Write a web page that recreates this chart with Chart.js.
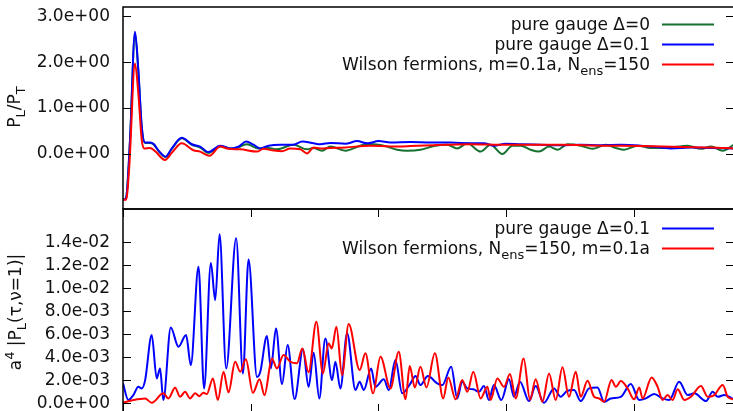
<!DOCTYPE html>
<html>
<head>
<meta charset="utf-8">
<script src="https://cdn.jsdelivr.net/npm/chart.js@4.4.1/dist/chart.umd.min.js"></script>
<style>
  html, body { margin: 0; padding: 0; background: #fff; overflow: hidden; width: 733px; height: 411px; }
  canvas { position: absolute; left: 0; }
  #topChart { top: 0; }
  #bottomChart { top: 200px; }
</style>
</head>
<body>
<canvas id="topChart" width="740" height="212"></canvas>
<canvas id="bottomChart" width="740" height="230"></canvas>
<script>
// ---- data (x = tau, tick every 10) ----
const xTicks = [0, 10, 20, 30, 40];
const topYTicks = [0, 1, 2, 3];
const bottomYTicks = [0, 0.002, 0.004, 0.006, 0.008, 0.010, 0.012, 0.014];

const topNames = ["pure gauge Δ=0", "pure gauge Δ=0.1", "Wilson fermions, m=0.1a, N_ens=150"];
const bottomNames = ["pure gauge Δ=0.1", "Wilson fermions, N_ens=150, m=0.1a"];

// top panel: P_L / P_T
const topGreenX = [0, 0.24, 0.55, 0.94, 1.2, 1.47, 1.73, 2.12, 2.38, 2.85, 3.33, 3.82, 4.6, 5.39, 6.04, 6.69, 7.61, 8.65, 9.7, 10.61,
  11.37, 12.05, 13.36, 14.41, 14.9, 15.58, 16.24, 17.41, 18.85, 19.63, 20.55, 21.47, 22.25, 23.29, 24.34, 25.39, 26.17, 26.96, 28.0, 28.78,
  29.7, 30.49, 31.14, 31.92, 32.57, 33.36, 34.02, 34.8, 35.84, 36.75, 37.8, 38.59, 39.24, 40.29, 41.33, 42.51, 44.21, 45.25, 46.04, 46.96, 47.84];
const topGreenY = [-1.0, -0.96, 0.3, 2.62, 1.8, 0.57, 0.24, 0.24, 0.21, 0.04, -0.07, 0.11, 0.34, 0.2, 0.14, 0.02, 0.16, 0.11, 0.21, 0.12,
  0.13, 0.1, 0.2, 0.1, 0.13, 0.07, 0.16, 0.07, 0.2, 0.21, 0.17, 0.09, 0.07, 0.09, 0.17, 0.2, 0.12, 0.23, 0.05, 0.2,
  0.0, 0.18, 0.18, 0.09, 0.05, 0.16, 0.09, 0.21, 0.18, 0.11, 0.2, 0.13, 0.09, 0.18, 0.13, 0.13, 0.18, 0.11, 0.16, 0.07, 0.2];

const topBlueX = [0, 0.24, 0.55, 0.94, 1.2, 1.47, 1.73, 2.12, 2.38, 2.85, 3.33, 3.82, 4.6, 5.39, 6.04, 6.69, 7.61, 8.39, 9.04, 9.65,
  10.22, 10.75, 11.4, 12.31, 13.36, 14.02, 14.93, 15.45, 16.24, 17.41, 18.33, 19.14, 20.02, 20.94, 22.51, 24.08, 25.65, 27.22, 28.26, 29.04,
  29.96, 31.14, 32.71, 34.27, 35.84, 37.41, 38.98, 40.55, 42.12, 42.9, 44.47, 46.04, 47.84];
const topBlueY = [-1.0, -0.96, 0.3, 2.66, 1.83, 0.59, 0.25, 0.25, 0.22, 0.05, -0.06, 0.12, 0.35, 0.21, 0.16, 0.04, 0.18, 0.12, 0.16, 0.27,
  0.2, 0.12, 0.18, 0.2, 0.2, 0.27, 0.23, 0.21, 0.24, 0.22, 0.28, 0.23, 0.28, 0.25, 0.26, 0.25, 0.25, 0.23, 0.23, 0.18,
  0.22, 0.21, 0.2, 0.19, 0.2, 0.19, 0.2, 0.18, 0.14, 0.12, 0.14, 0.13, 0.12];

const topRedX = [0, 0.24, 0.49, 0.94, 1.2, 1.47, 1.65, 2.12, 2.51, 3.29, 3.84, 4.6, 5.51, 6.04, 6.77, 7.61, 8.26, 9.18, 10.49, 11.0,
  11.69, 12.45, 13.1, 13.88, 14.41, 14.93, 15.45, 16.24, 17.41, 19.37, 20.94, 22.51, 24.34, 25.39, 27.22, 29.57, 31.92, 34.27, 37.41, 40.55,
  43.69, 46.04, 47.84];
const topRedY = [-1.0, -1.0, -0.28, 1.97, 1.32, 0.3, 0.12, 0.13, 0.06, -0.13, 0.03, 0.23, 0.08, 0.05, -0.04, 0.16, 0.11, 0.1, 0.05, 0.11,
  0.08, 0.06, 0.12, 0.1, 0.01, 0.14, 0.12, 0.13, 0.14, 0.18, 0.16, 0.17, 0.19, 0.2, 0.21, 0.2, 0.2, 0.2, 0.18, 0.17,
  0.15, 0.14, 0.12];

// bottom panel: a^4 |P_L(tau, nu=1)|, values in units of 1e-3
const botBlueX = [0, 0.42, 0.81, 1.2, 1.47, 1.73, 2.25, 2.64, 2.9, 3.16, 3.74, 4.34, 4.94, 5.31, 5.91, 6.35, 6.88, 7.22, 7.56, 8.08,
  8.86, 9.39, 9.83, 10.49, 10.75, 11.27, 11.58, 11.98, 12.45, 12.89, 13.44, 14.09, 14.53, 14.93, 15.37, 15.84, 16.37, 16.63, 17.02, 17.55,
  18.2, 18.53, 18.85, 19.43, 19.76, 20.42, 20.81, 21.33, 21.86, 22.51, 22.9, 23.29, 23.87, 24.6, 25.0, 25.7, 26.17, 26.56, 26.96, 27.43,
  27.87, 28.26, 28.65, 29.04, 29.62, 30.22, 30.61, 31.08, 31.79, 32.31, 32.96, 33.75, 34.27, 34.8, 35.32, 35.84, 36.49, 37.15, 37.67, 38.2,
  38.98, 39.76, 40.42, 40.94, 41.59, 42.25, 42.77, 43.55, 44.21, 44.73, 45.65, 46.17, 46.56, 47.08, 47.84];
const botBlueY = [1.74, 0.29, 0.72, 1.44, 1.3, 2.0, 5.94, 2.17, 3.04, 0.29, 6.6, 4.92, 5.94, 3.33, 11.88, 1.3, 12.2, 8.98, 14.7, 3.04,
  14.35, 2.6, 12.5, 2.3, 2.75, 5.85, 3.04, 6.5, 1.68, 5.07, 0.37, 4.7, 1.44, 4.4, 0.43, 5.65, 2.03, 3.62, 1.3, 6.09,
  1.16, 1.88, 1.16, 3.04, 1.44, 2.09, 1.16, 3.77, 0.87, 1.74, 2.37, 1.59, 2.37, 1.74, 1.59, 3.18, 0.43, 1.88, 1.3, 1.22,
  1.0, 1.5, 0.29, 1.59, 0.29, 2.09, 0.57, 1.88, 0.2, 1.5, 0.05, 1.3, 0.57, 1.1, 1.16, 0.2, 1.3, 1.39, 0.14, 0.43,
  0.57, 1.68, 0.29, 0.43, 0.81, 0.43, 0.29, 1.88, 0.72, 0.87, 0.2, 1.0, 0.57, 0.72, 0.35];

const botRedX = [0, 0.81, 1.73, 2.25, 3.16, 3.55, 4.08, 4.47, 4.86, 5.25, 5.65, 5.98, 6.3, 6.56, 7.04, 7.43, 7.87, 8.26, 8.78, 9.18,
  9.62, 10.17, 10.69, 11.08, 11.66, 12.05, 12.57, 13.1, 13.62, 14.04, 14.53, 15.14, 15.65, 16.1, 16.35, 16.71, 17.15, 17.67, 18.53, 18.98,
  19.58, 20.16, 20.94, 21.59, 22.12, 22.45, 22.85, 23.29, 23.76, 24.42, 25.07, 25.47, 26.04, 26.56, 26.96, 27.43, 28.0, 28.53, 28.78, 29.31,
  29.83, 30.3, 30.75, 31.37, 31.87, 32.31, 32.84, 33.36, 33.88, 34.41, 34.92, 35.45, 35.84, 36.37, 36.89, 37.28, 37.67, 38.25, 38.59, 38.98,
  39.51, 40.02, 40.42, 40.68, 41.39, 41.86, 42.25, 42.64, 43.03, 43.43, 43.95, 44.47, 45.25, 45.78, 46.27, 46.96, 47.35, 47.84];
const botRedY = [0.05, 0.29, 0.43, 0.05, 0.87, 0.43, 1.36, 0.57, 1.0, 0.43, 0.87, 0.63, 0.92, 0.81, 2.17, 0.29, 2.75, 0.96, 3.62, 2.75,
  3.83, 0.92, 2.09, 0.72, 3.91, 3.04, 4.2, 3.62, 3.48, 4.78, 2.7, 7.1, 2.6, 5.2, 4.78, 6.66, 2.46, 6.9, 2.9, 4.35,
  0.87, 4.05, 1.3, 4.49, 0.35, 3.24, 1.39, 3.18, 1.39, 4.35, 0.43, 2.26, 0.35, 2.03, 1.0, 2.75, 0.43, 1.44, 0.29, 2.17,
  1.44, 2.55, 0.43, 3.91, 0.29, 2.09, 0.14, 2.6, 0.29, 3.13, 0.57, 2.75, 0.57, 1.97, 0.57, 0.43, 0.14, 2.03, 1.44, 1.94,
  1.3, 0.35, 1.39, 0.43, 2.26, 1.44, 0.29, 0.72, 0.29, 1.22, 0.29, 0.57, 1.5, 0.57, 0.7, 1.59, 0.57, 0.35];

// ---- helpers ----
const GREEN = "#16702f", BLUE = "#0000ff", RED = "#ff0000";
const MAIN_FONT = "17px 'DejaVu Sans'";
const SMALL_FONT = "13px 'DejaVu Sans'";
const TEXT_COLOR = "#111";

function points(xs, ys, scale) {
  return xs.map((x, i) => ({ x: x, y: ys[i] * (scale || 1) }));
}

function fmtExp(v) {
  return Number(v).toExponential(1).replace(/e([+-])(\d)$/, "e$10$2");
}

// "N_ens" -> N with subscript "ens"
function parseRich(str) {
  const segs = [];
  const re = /([_^])(\{[^}]*\}|[A-Za-z0-9]+)/g;
  let last = 0, m;
  while ((m = re.exec(str))) {
    if (m.index > last) segs.push({ t: str.slice(last, m.index) });
    const body = m[2].replace(/[{}]/g, "");
    segs.push({ t: body, sub: m[1] === "_", sup: m[1] === "^" });
    last = re.lastIndex;
  }
  if (last < str.length) segs.push({ t: str.slice(last) });
  return segs;
}

function richWidth(ctx, segs) {
  let w = 0;
  segs.forEach(s => {
    ctx.font = s.sub || s.sup ? SMALL_FONT : MAIN_FONT;
    w += ctx.measureText(s.t).width;
  });
  return w;
}

function drawRich(ctx, segs, x, y) {
  segs.forEach(s => {
    ctx.font = s.sub || s.sup ? SMALL_FONT : MAIN_FONT;
    const dy = s.sub ? 5 : s.sup ? -7 : 0;
    ctx.fillText(s.t, x, y + dy);
    x += ctx.measureText(s.t).width;
  });
}

// frame, inward ticks, axis title and key, gnuplot style
const framePlugin = {
  id: "frame",
  afterDraw(chart, args, opts) {
    const { ctx, chartArea: a, scales } = chart;
    ctx.save();
    ctx.strokeStyle = "#000";
    ctx.lineWidth = 1;
    ctx.beginPath();
    scales.y.ticks.forEach(t => {
      const y = Math.round(scales.y.getPixelForValue(t.value)) + 0.5;
      ctx.moveTo(a.left, y); ctx.lineTo(a.left + 8, y);
      ctx.moveTo(a.right, y); ctx.lineTo(a.right - 8, y);
    });
    if (opts.xTicks) {
      xTicks.forEach(v => {
        const x = Math.round(scales.x.getPixelForValue(v)) + 0.5;
        ctx.moveTo(x, a.bottom); ctx.lineTo(x, a.bottom - 8);
        ctx.moveTo(x, a.top); ctx.lineTo(x, a.top + 8);
      });
    }
    ctx.stroke();
    ctx.lineWidth = 1.5;
    ctx.strokeRect(a.left, a.top, a.right - a.left, a.bottom - a.top);

    // y axis title
    ctx.fillStyle = TEXT_COLOR;
    ctx.textBaseline = "alphabetic";
    ctx.textAlign = "left";
    const title = parseRich(opts.title);
    const tw = richWidth(ctx, title);
    ctx.save();
    ctx.translate(opts.titleX, opts.titleY);
    ctx.rotate(-Math.PI / 2);
    drawRich(ctx, title, -tw / 2, 0);
    ctx.restore();

    // key
    chart.data.datasets.forEach((ds, i) => {
      const cy = opts.keyY + i * 20;
      const segs = parseRich(ds.label);
      const w = richWidth(ctx, segs);
      ctx.fillStyle = TEXT_COLOR;
      drawRich(ctx, segs, 650 - w, cy + 6);
      ctx.strokeStyle = ds.borderColor;
      ctx.lineWidth = 2;
      ctx.beginPath();
      ctx.moveTo(662, cy + 0.5);
      ctx.lineTo(714, cy + 0.5);
      ctx.stroke();
    });
    ctx.restore();
  }
};

function lineSet(label, data, color, order) {
  return {
    label: label,
    data: data,
    borderColor: color,
    borderWidth: 2,
    pointRadius: 0,
    fill: false,
    cubicInterpolationMode: "monotone",
    order: order
  };
}

function noPad(s) {
  s.paddingTop = 0; s.paddingBottom = 0; s.paddingLeft = 0; s.paddingRight = 0;
}

function baseOptions(yMin, yMax, yTicks, padding, frameOpts) {
  return {
    responsive: false,
    animation: false,
    events: [],
    layout: { padding: padding },
    plugins: { legend: { display: false }, tooltip: { enabled: false }, frame: frameOpts },
    scales: {
      x: {
        type: "linear",
        min: 0,
        max: 47.84,
        ticks: { display: false },
        grid: { display: false, drawTicks: false },
        border: { display: false },
        afterFit: s => { s.height = 0; noPad(s); }
      },
      y: {
        type: "linear",
        min: yMin,
        max: yMax,
        afterBuildTicks: s => { s.ticks = yTicks.map(v => ({ value: v })); },
        ticks: {
          callback: fmtExp,
          font: { family: "DejaVu Sans", size: 17 },
          color: TEXT_COLOR,
          padding: 13
        },
        grid: { display: false, drawTicks: false },
        border: { display: false },
        afterFit: s => { s.width = 123; noPad(s); }
      }
    }
  };
}

// ---- top panel ----
new Chart(document.getElementById("topChart"), {
  type: "line",
  data: {
    datasets: [
      lineSet(topNames[0], points(topGreenX, topGreenY), GREEN, 2),
      lineSet(topNames[1], points(topBlueX, topBlueY), BLUE, 1),
      lineSet(topNames[2], points(topRedX, topRedY), RED, 0)
    ]
  },
  options: baseOptions(-1.2, 3.2, topYTicks, { left: 0, right: 6, top: 7, bottom: 3 },
    { title: "P_L/P_T", titleX: 20, titleY: 107, keyY: 24, xTicks: false }),
  plugins: [framePlugin]
});

// ---- bottom panel ----
new Chart(document.getElementById("bottomChart"), {
  type: "line",
  data: {
    datasets: [
      lineSet(bottomNames[0], points(botBlueX, botBlueY, 1e-3), BLUE, 1),
      lineSet(bottomNames[1], points(botRedX, botRedY, 1e-3), RED, 0)
    ]
  },
  options: baseOptions(-0.00075, 0.0169, bottomYTicks, { left: 0, right: 6, top: 9, bottom: 18 },
    { title: "a^4 |P_L(τ,ν=1)|", titleX: 21, titleY: 112, keyY: 28, xTicks: true }),
  plugins: [framePlugin]
});
</script>
</body>
</html>
